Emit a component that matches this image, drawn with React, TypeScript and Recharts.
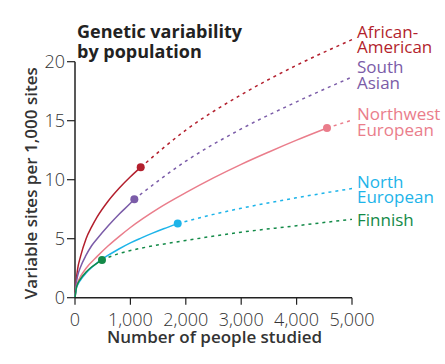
import React from "react";
import {
  ComposedChart,
  Line,
  XAxis,
  YAxis,
  ReferenceLine,
} from "recharts";

// ---- Data (x = number of people studied, y = variable sites per 1,000 sites)
const africanAmericanObserved = [
  { x: 0, y: 0 }, { x: 25, y: 1.6 }, { x: 50, y: 2.5 }, { x: 100, y: 3.5 },
  { x: 200, y: 5.0 }, { x: 300, y: 6.0 }, { x: 400, y: 6.85 }, { x: 600, y: 8.2 },
  { x: 800, y: 9.3 }, { x: 1000, y: 10.25 }, { x: 1186, y: 11.05 },
];
const africanAmericanProjected = [
  { x: 1186, y: 11.05 }, { x: 2000, y: 14.2 }, { x: 3000, y: 17.2 },
  { x: 4000, y: 19.7 }, { x: 5000, y: 21.87 },
];
const southAsianObserved = [
  { x: 0, y: 0 }, { x: 25, y: 1.3 }, { x: 50, y: 1.9 }, { x: 100, y: 2.6 },
  { x: 200, y: 3.6 }, { x: 300, y: 4.4 }, { x: 400, y: 5.0 }, { x: 600, y: 6.1 },
  { x: 800, y: 7.1 }, { x: 1000, y: 8.0 }, { x: 1071, y: 8.35 },
];
const southAsianProjected = [
  { x: 1071, y: 8.35 }, { x: 2000, y: 11.57 }, { x: 3000, y: 14.3 },
  { x: 4000, y: 16.6 }, { x: 5000, y: 18.7 },
];
const northwestEuropeanObserved = [
  { x: 0, y: 0 }, { x: 25, y: 0.9 }, { x: 50, y: 1.3 }, { x: 100, y: 1.8 },
  { x: 200, y: 2.5 }, { x: 400, y: 3.5 }, { x: 600, y: 4.4 }, { x: 800, y: 5.2 },
  { x: 1000, y: 5.95 }, { x: 1500, y: 7.55 }, { x: 2000, y: 8.9 }, { x: 2500, y: 10.15 },
  { x: 3000, y: 11.3 }, { x: 3500, y: 12.35 }, { x: 4000, y: 13.35 }, { x: 4549, y: 14.38 },
];
const northwestEuropeanProjected = [
  { x: 4549, y: 14.38 }, { x: 5000, y: 15.05 },
];
const northEuropeanObserved = [
  { x: 0, y: 0 }, { x: 25, y: 0.8 }, { x: 50, y: 1.1 }, { x: 100, y: 1.5 },
  { x: 200, y: 2.1 }, { x: 400, y: 2.95 }, { x: 600, y: 3.6 }, { x: 800, y: 4.15 },
  { x: 1000, y: 4.65 }, { x: 1200, y: 5.07 }, { x: 1400, y: 5.47 }, { x: 1600, y: 5.84 },
  { x: 1854, y: 6.28 },
];
const northEuropeanProjected = [
  { x: 1854, y: 6.28 }, { x: 2500, y: 7.06 }, { x: 3000, y: 7.58 },
  { x: 4000, y: 8.47 }, { x: 5000, y: 9.25 },
];
const finnishObserved = [
  { x: 0, y: 0 }, { x: 25, y: 0.85 }, { x: 50, y: 1.2 }, { x: 100, y: 1.6 },
  { x: 200, y: 2.18 }, { x: 300, y: 2.6 }, { x: 400, y: 2.94 }, { x: 487, y: 3.2 },
];
const finnishProjected = [
  { x: 487, y: 3.2 }, { x: 800, y: 3.75 }, { x: 1200, y: 4.2 }, { x: 2000, y: 4.85 },
  { x: 3000, y: 5.55 }, { x: 4000, y: 6.1 }, { x: 5000, y: 6.65 },
];

const xTicks = [0, 1000, 2000, 3000, 4000, 5000];
const yTicks = [0, 5, 10, 15, 20];

const series = [
  { name: "African-American", label: ["African-", "American"], color: "#b31f2d", observed: africanAmericanObserved, projected: africanAmericanProjected, labelY: 37.5 },
  { name: "South Asian", label: ["South", "Asian"], color: "#7b5ca8", observed: southAsianObserved, projected: southAsianProjected, labelY: 73 },
  { name: "Northwest European", label: ["Northwest", "European"], color: "#ea7d8b", observed: northwestEuropeanObserved, projected: northwestEuropeanProjected, labelY: 120 },
  { name: "North European", label: ["North", "European"], color: "#1db4e9", observed: northEuropeanObserved, projected: northEuropeanProjected, labelY: 187.5 },
  { name: "Finnish", label: ["Finnish"], color: "#138a48", observed: finnishObserved, projected: finnishProjected, labelY: 226 },
];

const FONT = "'Open Sans', sans-serif";
const fmt = (v: number) => v.toLocaleString("en-US");

export default function App() {
  return (
    <div style={{ position: "absolute", left: 0, top: 0, width: 445, height: 364, background: "#fff" }}>
      <ComposedChart
        width={445}
        height={364}
        margin={{ top: 14.5, right: 93, bottom: 26.3, left: 35 }}
      >
        <XAxis
          type="number"
          dataKey="x"
          domain={[0, 5000]}
          ticks={xTicks}
          tickFormatter={fmt}
          height={40}
          tickSize={7}
          tickMargin={9}
          axisLine={{ stroke: "#222", strokeWidth: 1.5 }}
          tickLine={{ stroke: "#222", strokeWidth: 1.2 }}
          tick={{ fill: "#333", fontSize: 18, fontFamily: FONT, fontWeight: 300 }}
          allowDuplicatedCategory={false}
        />
        <YAxis
          type="number"
          dataKey="y"
          domain={[0, 24]}
          ticks={yTicks}
          width={40}
          tickSize={8}
          tickMargin={2}
          axisLine={false}
          tickLine={{ stroke: "#222", strokeWidth: 1.2 }}
          tick={{ fill: "#333", fontSize: 18, fontFamily: FONT, fontWeight: 300 }}
        />
        <ReferenceLine
          segment={[{ x: 0, y: 0 }, { x: 0, y: 20 }]}
          stroke="#222"
          strokeWidth={1.5}
          ifOverflow="visible"
        />
        {series.map((s) => (
          <Line
            key={s.name + "-proj"}
            data={s.projected}
            dataKey="y"
            type="monotone"
            stroke={s.color}
            strokeWidth={1.5}
            strokeDasharray="3 4"
            dot={false}
            activeDot={false}
            isAnimationActive={false}
          />
        ))}
        {series.map((s) => (
          <Line
            key={s.name + "-obs"}
            data={s.observed}
            dataKey="y"
            type="monotone"
            stroke={s.color}
            strokeWidth={1.5}
            dot={false}
            activeDot={false}
            isAnimationActive={false}
          />
        ))}
        {series.map((s) => (
          <Line
            key={s.name + "-end"}
            data={[s.observed[s.observed.length - 1]]}
            dataKey="y"
            stroke="none"
            dot={{ r: 4, fill: s.color, stroke: "none" }}
            activeDot={false}
            isAnimationActive={false}
          />
        ))}
      </ComposedChart>
      <svg
        width={445}
        height={364}
        style={{ position: "absolute", left: 0, top: 0, pointerEvents: "none" }}
      >
        <text x={77} y={37.7} fontFamily={FONT} fontSize={18} fontWeight={700} fill="#222">
          <tspan x={77} y={37.7}>Genetic variability</tspan>
          <tspan x={77} dy={20}>by population</tspan>
        </text>
        {series.map((s) => (
          <text key={s.name} x={357} y={s.labelY} fontFamily={FONT} fontSize={17} fill={s.color}>
            {s.label.map((line, i) => (
              <tspan key={i} x={357} dy={i === 0 ? 0 : 15.5}>{line}</tspan>
            ))}
          </text>
        ))}
        <text
          transform="translate(37.2,183.3) rotate(-90)"
          textAnchor="middle"
          fontFamily={FONT}
          fontSize={17}
          fontWeight={600}
          fill="#333"
        >Variable sites per 1,000 sites</text>
        <text
          x={214.5}
          y={343.3}
          textAnchor="middle"
          fontFamily={FONT}
          fontSize={17}
          fontWeight={600}
          fill="#333"
        >Number of people studied</text>
      </svg>
    </div>
  );
}
